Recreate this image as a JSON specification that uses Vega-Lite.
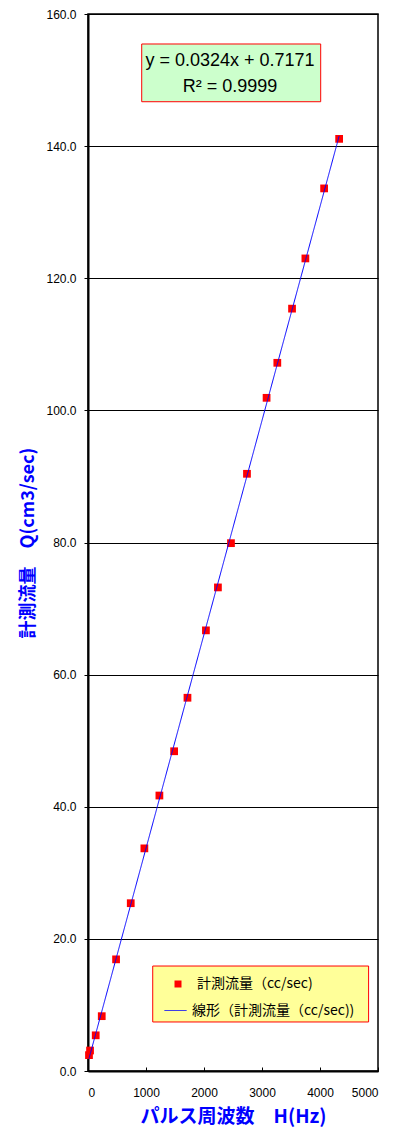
{
  "$schema": "https://vega.github.io/schema/vega-lite/v6.json",
  "width": 290,
  "height": 1057,
  "autosize": {"type": "none"},
  "padding": {"left": 88, "top": 14, "right": 28, "bottom": 58},
  "background": "white",
  "config": {
    "view": {"stroke": "black", "strokeWidth": 1.5},
    "font": "Liberation Sans",
    "legend": {
      "title": null,
      "orient": "none",
      "padding": 0,
      "labelFont": "Noto Sans CJK JP",
      "labelFontSize": 14,
      "labelColor": "black",
      "labelLimit": 300
    }
  },
  "data": {
    "values": [
      {"hz": 17, "q": 2.4},
      {"hz": 35, "q": 3.1},
      {"hz": 133, "q": 5.4},
      {"hz": 237, "q": 8.3},
      {"hz": 484, "q": 16.9},
      {"hz": 737, "q": 25.4},
      {"hz": 972, "q": 33.7},
      {"hz": 1231, "q": 41.7},
      {"hz": 1485, "q": 48.4},
      {"hz": 1715, "q": 56.5},
      {"hz": 2033, "q": 66.7},
      {"hz": 2240, "q": 73.2},
      {"hz": 2465, "q": 79.9},
      {"hz": 2741, "q": 90.4},
      {"hz": 3079, "q": 101.9},
      {"hz": 3264, "q": 107.2},
      {"hz": 3518, "q": 115.4},
      {"hz": 3748, "q": 123.0},
      {"hz": 4071, "q": 133.6},
      {"hz": 4330, "q": 141.1}
    ]
  },
  "layer": [
    {
      "data": {"values": [{}]},
      "mark": {"type": "rect", "fill": "#ffff99", "stroke": "#ff0000", "strokeWidth": 1},
      "encoding": {
        "x": {"datum": 1116, "type": "quantitative"},
        "x2": {"datum": 4838},
        "y": {"datum": 7.42, "type": "quantitative"},
        "y2": {"datum": 15.89}
      }
    },
    {
      "mark": {"type": "point", "filled": true, "shape": "square", "size": 60, "opacity": 1},
      "encoding": {
        "x": {
          "field": "hz", "type": "quantitative",
          "scale": {"domain": [0, 5000], "nice": false},
          "axis": {
            "values": [0, 500, 1000, 1500, 2000, 2500, 3000, 3500, 4000, 4500, 5000],
            "labelExpr": "datum.value % 1000 === 0 ? datum.label : ''",
            "format": "d",
            "grid": false,
            "domainColor": "black", "domainWidth": 2,
            "tickColor": "black", "tickSize": -4, "tickWidth": 1,
            "labelColor": "black", "labelFontSize": 12, "labelFont": "Liberation Sans",
            "labelPadding": 20,
            "title": "パルス周波数　H(Hz)",
            "titleColor": "#0000ff", "titleFont": "Noto Sans CJK JP", "titleFontSize": 19, "titleFontWeight": "bold",
            "titlePadding": 9
          }
        },
        "y": {
          "field": "q", "type": "quantitative",
          "scale": {"domain": [0, 160], "nice": false},
          "axis": {
            "values": [0, 20, 40, 60, 80, 100, 120, 140, 160],
            "format": ".1f",
            "grid": true, "gridColor": "black", "gridWidth": 1, "gridOpacity": 1,
            "domainColor": "black", "domainWidth": 2,
            "tickColor": "black", "tickSize": 4,
            "labelColor": "black", "labelFontSize": 12, "labelFont": "Liberation Sans",
            "labelPadding": 8,
            "title": "計測流量　Q(cm3/sec)",
            "titleColor": "#0000ff", "titleFont": "Noto Sans CJK JP", "titleFontSize": 18, "titleFontWeight": "bold",
            "titlePadding": 8
          }
        },
        "color": {
          "datum": "計測流量（cc/sec)",
          "type": "nominal",
          "scale": {"range": ["#ff0000"]},
          "legend": {
            "legendX": 83,
            "legendY": 963,
            "symbolType": "square",
            "symbolSize": 49,
            "labelOffset": 12
          }
        }
      }
    },
    {
      "transform": [{"regression": "q", "on": "hz", "extent": [17, 4330]}],
      "mark": {"type": "line", "strokeWidth": 1},
      "encoding": {
        "x": {"field": "hz", "type": "quantitative"},
        "y": {"field": "q", "type": "quantitative"},
        "strokeDash": {
          "datum": "線形（計測流量（cc/sec))",
          "type": "nominal",
          "scale": {"range": [[1, 0]]},
          "legend": {
            "legendX": 76,
            "legendY": 985,
            "symbolType": "stroke",
            "symbolSize": 484,
            "symbolStrokeColor": "#0000ff",
            "symbolStrokeWidth": 1,
            "labelOffset": 5
          }
        },
        "color": {"value": "#0000ff"}
      }
    },
    {
      "data": {"values": [{}]},
      "mark": {"type": "rect", "fill": "#ccffcc", "stroke": "#ff0000", "strokeWidth": 1},
      "encoding": {
        "x": {"datum": 926, "type": "quantitative"},
        "x2": {"datum": 4012},
        "y": {"datum": 146.72, "type": "quantitative"},
        "y2": {"datum": 155.46}
      }
    },
    {
      "data": {"values": [{"label": "y = 0.0324x + 0.7171"}]},
      "mark": {"type": "text", "fontSize": 18, "font": "Liberation Sans", "color": "black", "baseline": "middle", "align": "center"},
      "encoding": {
        "x": {"datum": 2448, "type": "quantitative"},
        "y": {"datum": 152.81, "type": "quantitative"},
        "text": {"field": "label"}
      }
    },
    {
      "data": {"values": [{"label": "R² = 0.9999"}]},
      "mark": {"type": "text", "fontSize": 18, "font": "Liberation Sans", "color": "black", "baseline": "middle", "align": "center"},
      "encoding": {
        "x": {"datum": 2448, "type": "quantitative"},
        "y": {"datum": 148.95, "type": "quantitative"},
        "text": {"field": "label"}
      }
    }
  ]
}
